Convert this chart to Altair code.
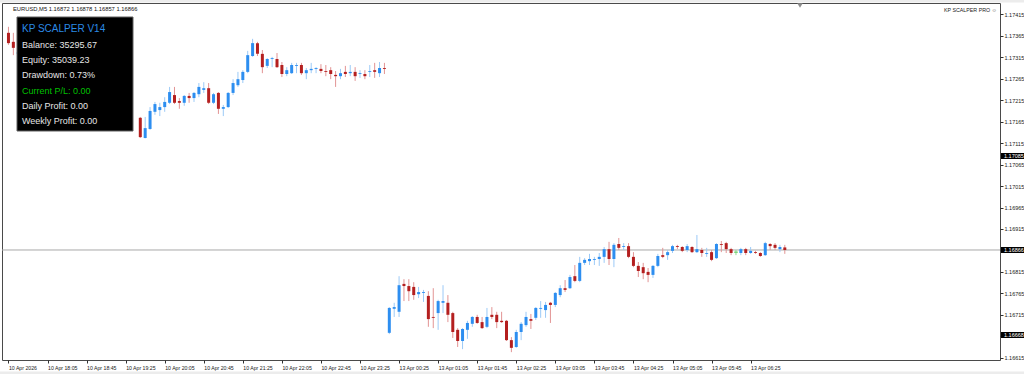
import altair as alt
import pandas as pd

# ---------------- data ----------------
BAR_INDEX = [0, 1, 2] + list(range(27, 160))
OPEN = [1.17372, 1.17351, 1.17323,
        1.17174, 1.17127, 1.17148, 1.17188, 1.17192, 1.17199, 1.17209, 1.17227, 1.17213, 1.17209,
        1.17225, 1.17220, 1.17229, 1.17239, 1.17243, 1.17209, 1.17232, 1.17195, 1.17199, 1.17232,
        1.17250, 1.17262, 1.17281, 1.17318, 1.17348, 1.17323, 1.17295, 1.17311, 1.17311, 1.17297,
        1.17276, 1.17278, 1.17295, 1.17297, 1.17278, 1.17285, 1.17288, 1.17288, 1.17283, 1.17285,
        1.17274, 1.17271, 1.17281, 1.17278, 1.17281, 1.17276, 1.17276, 1.17281, 1.17285, 1.17278,
        1.17290,
        1.16673, 1.16729, 1.16722, 1.16787, 1.16782, 1.16780, 1.16763, 1.16766, 1.16759, 1.16710,
        1.16719, 1.16743, 1.16743, 1.16719, 1.16680, 1.16654, 1.16680, 1.16694, 1.16710, 1.16698,
        1.16687, 1.16715, 1.16715, 1.16701, 1.16701, 1.16656, 1.16640, 1.16675, 1.16691, 1.16705,
        1.16708, 1.16729, 1.16726, 1.16743, 1.16738, 1.16761, 1.16777, 1.16777, 1.16805, 1.16794,
        1.16836, 1.16840, 1.16843, 1.16845, 1.16850, 1.16868, 1.16845, 1.16880, 1.16873, 1.16875,
        1.16850, 1.16829, 1.16826, 1.16815, 1.16808, 1.16829, 1.16854, 1.16854, 1.16864, 1.16875,
        1.16873, 1.16866, 1.16873, 1.16861, 1.16866, 1.16857, 1.16861, 1.16847, 1.16880, 1.16882,
        1.16868, 1.16861, 1.16859, 1.16868, 1.16859, 1.16861, 1.16859, 1.16854, 1.16880, 1.16878,
        1.16868, 1.16872]
HIGH = [1.17386, 1.17372, 1.17339,
        1.17176, 1.17176, 1.17199, 1.17211, 1.17209, 1.17222, 1.17246, 1.17246, 1.17220, 1.17227,
        1.17232, 1.17234, 1.17255, 1.17257, 1.17255, 1.17232, 1.17234, 1.17204, 1.17234, 1.17264,
        1.17281, 1.17285, 1.17330, 1.17358, 1.17351, 1.17332, 1.17313, 1.17316, 1.17325, 1.17304,
        1.17292, 1.17302, 1.17302, 1.17302, 1.17290, 1.17302, 1.17292, 1.17299, 1.17297, 1.17292,
        1.17283, 1.17288, 1.17295, 1.17297, 1.17292, 1.17285, 1.17285, 1.17297, 1.17302, 1.17304,
        1.17302,
        1.16733, 1.16743, 1.16805, 1.16798, 1.16798, 1.16791, 1.16780, 1.16773, 1.16770, 1.16777,
        1.16750, 1.16784, 1.16761, 1.16722, 1.16684, 1.16684, 1.16701, 1.16712, 1.16715, 1.16710,
        1.16731, 1.16733, 1.16722, 1.16722, 1.16703, 1.16663, 1.16680, 1.16698, 1.16722, 1.16717,
        1.16733, 1.16747, 1.16745, 1.16745, 1.16768, 1.16784, 1.16796, 1.16808, 1.16831, 1.16850,
        1.16847, 1.16857, 1.16850, 1.16859, 1.16873, 1.16885, 1.16882, 1.16894, 1.16882, 1.16882,
        1.16861, 1.16838, 1.16836, 1.16824, 1.16831, 1.16857, 1.16871, 1.16866, 1.16878, 1.16878,
        1.16875, 1.16880, 1.16875, 1.16901, 1.16871, 1.16871, 1.16866, 1.16882, 1.16887, 1.16885,
        1.16871, 1.16866, 1.16871, 1.16871, 1.16873, 1.16864, 1.16861, 1.16885, 1.16882, 1.16882,
        1.16878, 1.16878]
LOW = [1.17344, 1.17320, 1.17302,
       1.17127, 1.17126, 1.17146, 1.17181, 1.17178, 1.17188, 1.17206, 1.17206, 1.17195, 1.17202,
       1.17209, 1.17211, 1.17222, 1.17232, 1.17206, 1.17206, 1.17183, 1.17178, 1.17197, 1.17227,
       1.17246, 1.17255, 1.17278, 1.17316, 1.17318, 1.17278, 1.17290, 1.17292, 1.17290, 1.17269,
       1.17271, 1.17276, 1.17278, 1.17274, 1.17264, 1.17278, 1.17278, 1.17278, 1.17271, 1.17264,
       1.17246, 1.17264, 1.17269, 1.17271, 1.17260, 1.17267, 1.17264, 1.17269, 1.17267, 1.17269,
       1.17276,
       1.16670, 1.16710, 1.16710, 1.16747, 1.16747, 1.16750, 1.16754, 1.16745, 1.16687, 1.16684,
       1.16680, 1.16719, 1.16698, 1.16661, 1.16640, 1.16635, 1.16659, 1.16687, 1.16694, 1.16682,
       1.16684, 1.16705, 1.16684, 1.16696, 1.16654, 1.16628, 1.16638, 1.16656, 1.16687, 1.16682,
       1.16703, 1.16708, 1.16708, 1.16696, 1.16733, 1.16756, 1.16768, 1.16775, 1.16791, 1.16791,
       1.16831, 1.16831, 1.16831, 1.16829, 1.16836, 1.16831, 1.16826, 1.16866, 1.16866, 1.16847,
       1.16826, 1.16803, 1.16798, 1.16791, 1.16801, 1.16826, 1.16847, 1.16843, 1.16859, 1.16868,
       1.16861, 1.16861, 1.16859, 1.16859, 1.16850, 1.16850, 1.16840, 1.16845, 1.16861, 1.16859,
       1.16854, 1.16854, 1.16854, 1.16854, 1.16857, 1.16857, 1.16850, 1.16852, 1.16866, 1.16866,
       1.16861, 1.16857]
CLOSE = [1.17348, 1.17337, 1.17327,
         1.17129, 1.17150, 1.17190, 1.17206, 1.17199, 1.17211, 1.17234, 1.17209, 1.17209, 1.17225,
         1.17220, 1.17232, 1.17246, 1.17243, 1.17209, 1.17229, 1.17195, 1.17199, 1.17232, 1.17255,
         1.17264, 1.17281, 1.17320, 1.17348, 1.17323, 1.17292, 1.17311, 1.17313, 1.17292, 1.17276,
         1.17285, 1.17297, 1.17297, 1.17278, 1.17285, 1.17288, 1.17290, 1.17283, 1.17281, 1.17276,
         1.17271, 1.17278, 1.17276, 1.17281, 1.17271, 1.17278, 1.17271, 1.17283, 1.17281, 1.17290,
         1.17288,
         1.16731, 1.16733, 1.16784, 1.16782, 1.16770, 1.16761, 1.16768, 1.16768, 1.16705, 1.16708,
         1.16747, 1.16747, 1.16715, 1.16675, 1.16654, 1.16682, 1.16696, 1.16710, 1.16696, 1.16684,
         1.16710, 1.16710, 1.16698, 1.16698, 1.16656, 1.16638, 1.16675, 1.16694, 1.16710, 1.16701,
         1.16731, 1.16731, 1.16738, 1.16738, 1.16766, 1.16777, 1.16773, 1.16803, 1.16794, 1.16836,
         1.16843, 1.16845, 1.16845, 1.16850, 1.16868, 1.16845, 1.16878, 1.16871, 1.16875, 1.16850,
         1.16829, 1.16817, 1.16812, 1.16808, 1.16829, 1.16852, 1.16850, 1.16861, 1.16875, 1.16873,
         1.16864, 1.16875, 1.16861, 1.16868, 1.16859, 1.16859, 1.16843, 1.16880, 1.16878, 1.16868,
         1.16859, 1.16861, 1.16868, 1.16859, 1.16864, 1.16859, 1.16852, 1.16882, 1.16875, 1.16871,
         1.16873, 1.16866]

TICK_BARS = [0, 8, 16, 24, 32, 40, 48, 56, 64, 72, 80, 88, 96, 104, 112, 120, 128, 136, 144, 152]
TIME_LABELS = ["10 Apr 2026", "10 Apr 18:05", "10 Apr 18:45", "10 Apr 19:25", "10 Apr 20:05",
               "10 Apr 20:45", "10 Apr 21:25", "10 Apr 22:05", "10 Apr 22:45", "10 Apr 23:25",
               "13 Apr 00:25", "13 Apr 01:05", "13 Apr 01:45", "13 Apr 02:25", "13 Apr 03:05",
               "13 Apr 03:45", "13 Apr 04:25", "13 Apr 05:05", "13 Apr 05:45", "13 Apr 06:25"]
PRICE_TICKS = [1.17415, 1.17365, 1.17315, 1.17265, 1.17215, 1.17165, 1.17115, 1.17065,
               1.17015, 1.16965, 1.16915, 1.16865, 1.16815, 1.16765, 1.16715, 1.16665, 1.16615]
PRICE_TICK_LABELS = ["1.17415", "1.17365", "1.17315", "1.17265", "1.17215", "1.17165", "1.17115",
                     "1.17065", "1.17015", "1.16965", "1.16915", "", "1.16815", "1.16765",
                     "1.16715", "", "1.16615"]
MARKED_PRICES = [1.17085, 1.16866, 1.16668]
MARKED_LABELS = ["1.17085", "1.16866", "1.16668"]
BID = [1.16866]

HEADER = "EURUSD,M5  1.16872 1.16878 1.16857 1.16866"
INDICATOR = "KP SCALPER PRO \u263a"
PANEL_LINES = ["KP SCALPER V14", "Balance: 35295.67", "Equity: 35039.23", "Drawdown: 0.73%",
               "Current P/L: 0.00", "Daily Profit: 0.00", "Weekly Profit: 0.00"]
PANEL_COLORS = ["#2b8be6", "#e6e6e6", "#e6e6e6", "#e6e6e6", "#00c000", "#e6e6e6", "#e6e6e6"]

# ---------------- tables ----------------
df = pd.DataFrame({"bar": BAR_INDEX, "open": OPEN, "high": HIGH, "low": LOW, "close": CLOSE})
df["dir"] = ["up" if c > o else ("down" if c < o else "doji") for o, c in zip(OPEN, CLOSE)]

FONT = "Liberation Sans"
W, H = 998, 357

xs = alt.Scale(domain=[-0.3, 202.05], nice=False, zero=False)
ys = alt.Scale(domain=[1.166097, 1.174415], nice=False, zero=False)

labels_js = "[" + ",".join("'%s'" % s for s in TIME_LABELS) + "]"
ticks_js = "[" + ",".join(str(t) for t in TICK_BARS) + "]"
ylabels_js = "[" + ",".join("'%s'" % s for s in PRICE_TICK_LABELS) + "]"
yticks_js = "[" + ",".join("%.5f" % t for t in PRICE_TICKS) + "]"

xaxis = alt.Axis(orient="bottom", values=TICK_BARS, title=None, domain=False, grid=False,
                 tickSize=3, tickColor="#303030", labelFontSize=5.2, labelFont=FONT,
                 labelColor="#1a1a1a", labelAlign="left", labelPadding=2, labelFlush=False,
                 labelOverlap=False,
                 labelExpr=f"{labels_js}[indexof({ticks_js}, datum.value)]")
yaxis = alt.Axis(orient="right", values=PRICE_TICKS, title=None, domain=False, grid=False,
                 tickSize=3, tickColor="#303030", labelFontSize=5.5, labelFont=FONT,
                 labelColor="#1a1a1a", labelAlign="left", labelBaseline="middle",
                 labelPadding=1, labelFlush=False, labelOverlap=False,
                 labelExpr=f"{ylabels_js}[indexof({yticks_js}, round(datum.value*100000)/100000)]")

dir_dom = ["up", "down", "doji"]
wick_col = alt.Color("dir:N", scale=alt.Scale(domain=dir_dom, range=["#9ccaf7", "#e29494", "#8fdc8f"]), legend=None)
body_col = alt.Color("dir:N", scale=alt.Scale(domain=dir_dom, range=["#2d8ef0", "#b41f1f", "#22b822"]), legend=None)

one = pd.DataFrame({"k": [0]})

top_band = alt.Chart(one).mark_rect(color="#ececec").encode(
    x=alt.value(-2), x2=alt.value(1022), y=alt.value(-3), y2=alt.value(-0.6))
bottom_band = alt.Chart(one).mark_rect(color="#ececec").encode(
    x=alt.value(-2), x2=alt.value(1022), y=alt.value(368.5), y2=alt.value(371))

bid_line = alt.Chart(pd.DataFrame({"p": BID})).mark_rule(color="#a8a8a8", strokeWidth=1).encode(
    y=alt.Y("p:Q", scale=ys, axis=yaxis))

base = alt.Chart(df).encode(x=alt.X("bar:Q", scale=xs, axis=xaxis))
wicks = base.mark_rule(strokeWidth=1).encode(
    y=alt.Y("low:Q", scale=ys, axis=yaxis), y2="high:Q", color=wick_col)
bodies = base.mark_bar(size=3).encode(
    y=alt.Y("open:Q", scale=ys, axis=yaxis), y2="close:Q", color=body_col)
dojis = base.transform_filter("datum.dir == 'doji'").mark_tick(
    orient="horizontal", size=4, thickness=1, color="#22b822").encode(
    y=alt.Y("open:Q", scale=ys, axis=yaxis))

shift_marker = alt.Chart(one).mark_point(shape="triangle-down", filled=True, size=30,
                                         color="#8c8c8c", opacity=1).encode(
    x=alt.value(798), y=alt.value(2.5))

header = alt.Chart(one).mark_text(text=HEADER, align="left", baseline="middle", font=FONT,
                                  fontSize=5.8, color="#111111").encode(
    x=alt.value(11), y=alt.value(6))
indicator = alt.Chart(one).mark_text(text=INDICATOR, align="right", baseline="middle", font=FONT,
                                     fontSize=5.3, color="#222222").encode(
    x=alt.value(995), y=alt.value(7))

panel_box = alt.Chart(one).mark_rect(color="#000000", stroke="#606060", strokeWidth=1).encode(
    x=alt.value(15), x2=alt.value(131), y=alt.value(14), y2=alt.value(128))

panel_layers = []
for i, (txt, col) in enumerate(zip(PANEL_LINES, PANEL_COLORS)):
    fs = 10 if i == 0 else 9
    yb = 29.3 + 15.35 * i
    panel_layers.append(
        alt.Chart(one).mark_text(text=txt, align="left", baseline="alphabetic", font=FONT,
                                 fontSize=fs, color=col).encode(
            x=alt.value(20), y=alt.value(yb)))

mk = pd.DataFrame({"p": MARKED_PRICES, "t": MARKED_LABELS})
marked_bg = alt.Chart(mk).mark_rect(color="#000000", yOffset=-3, y2Offset=3).encode(
    x=alt.value(999), x2=alt.value(1022),
    y=alt.Y("p:Q", scale=ys, axis=yaxis), y2="p:Q")
marked_txt = alt.Chart(mk).mark_text(align="left", baseline="middle", font=FONT, fontSize=5.5,
                                     color="#ffffff").encode(
    x=alt.value(1002), y=alt.Y("p:Q", scale=ys, axis=yaxis), text="t:N")

chart = alt.layer(
    top_band, bottom_band, bid_line, wicks, bodies, dojis, shift_marker, header, indicator,
    panel_box, *panel_layers, marked_bg, marked_txt
).resolve_scale(color="independent").properties(
    width=W, height=H,
    padding={"left": 2, "top": 3, "right": 24, "bottom": 14},
    autosize=alt.AutoSizeParams(type="none"),
    background="#ffffff",
).configure_view(stroke="#4a4a4a", strokeWidth=1)

chart.save("out.html", embed_options={"renderer": "svg", "actions": False})
